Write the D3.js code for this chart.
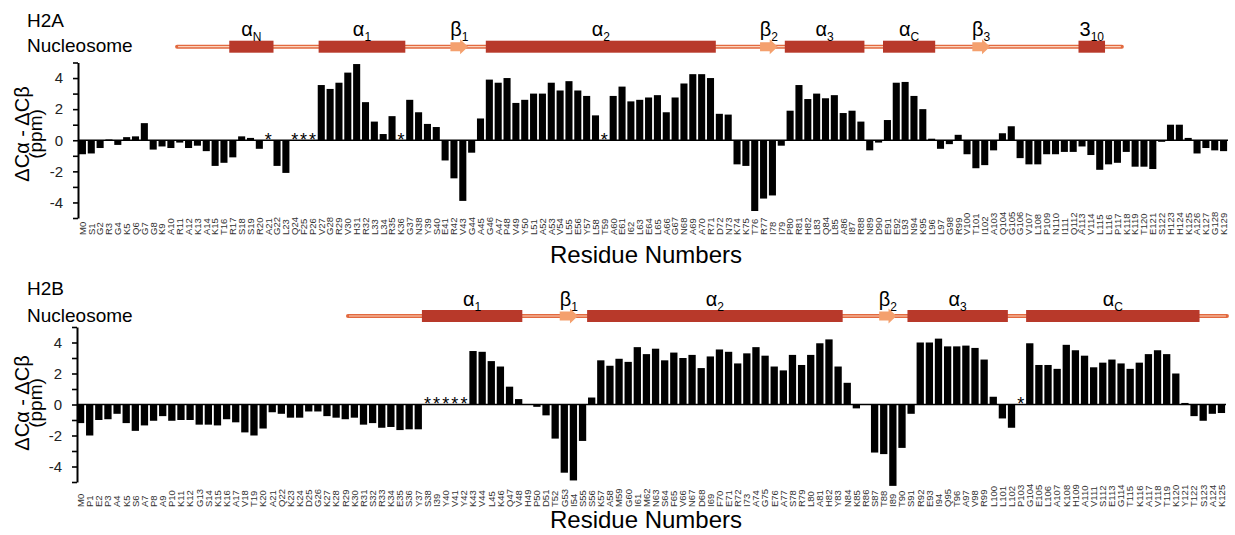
<!DOCTYPE html>
<html><head><meta charset="utf-8">
<script src="https://cdn.jsdelivr.net/npm/d3@7"></script>
<style>
 body{margin:0;background:#fff;}
 svg{font-family:Arial,"Liberation Sans",sans-serif;}
</style></head><body>
<div id="chartDiv"></div>
<script>
// H2A residues and dCa-dCb values (null = not assigned, drawn as *)
var h2aRes = ["M0","S1","G2","R3","G4","K5","Q6","G7","G8","K9","A10","R11","A12","K13","A14","K15","T16","R17","S18","S19",
 "R20","A21","G22","L23","Q24","F25","P26","V27","G28","R29","V30","H31","R32","L33","L34","R35","K36","G37","N38","Y39",
 "S40","E41","R42","V43","G44","A45","G46","A47","P48","V49","Y50","L51","A52","A53","V54","L55","E56","Y57","L58","T59",
 "A60","E61","I62","L63","E64","L65","A66","G67","N68","A69","A70","R71","D72","N73","K74","K75","T76","R77","I78","I79",
 "P80","R81","H82","L83","Q84","L85","A86","I87","R88","N89","D90","E91","E92","L93","N94","K95","L96","L97","G98","R99",
 "V100","T101","I102","A103","Q104","G105","G106","V107","L108","P109","N110","I111","Q112","A113","V114","L115","L116","P117","K118","K119",
 "T120","E121","S122","H123","H124","K125","A126","K127","G128","K129"];
var h2aVal = [-0.9,-0.85,-0.5,0.05,-0.3,0.2,0.25,1.1,-0.6,-0.4,-0.5,-0.15,-0.5,-0.35,-0.7,-1.65,-1.45,-1.1,0.25,0.15,
 -0.55,null,-1.65,-2.1,null,null,null,3.55,3.3,3.7,4.35,4.9,2.45,1.2,0.4,1.55,null,2.6,1.8,1.05,
 0.85,-1.3,-2.45,-3.9,-0.8,1.4,3.9,3.7,4.0,2.4,2.6,3.0,3.0,3.7,3.2,3.8,3.2,2.85,1.6,null,
 2.85,3.45,2.5,2.6,2.75,2.9,1.8,2.75,3.65,4.25,4.25,4.0,1.7,1.65,-1.55,-1.65,-4.55,-3.75,-3.55,-0.35,
 1.9,3.55,2.65,3.0,2.7,2.9,1.75,1.9,1.2,-0.65,-0.15,1.3,3.7,3.75,2.85,2.0,0.1,-0.55,-0.25,0.35,
 -0.9,-1.8,-1.6,-0.65,0.45,0.9,-1.15,-1.55,-1.55,-0.9,-0.9,-0.75,-0.75,-0.4,-0.95,-1.9,-1.55,-1.45,-0.75,-1.7,
 -1.7,-1.85,-0.1,1.0,1.0,0.15,-0.85,-0.5,-0.65,-0.7];
// secondary structure: type, from, to (residue position), label, subscript
var h2aSS = [
 ["line",11.1,117.9,"",""],
 ["helix",17,22,"\u03b1","N"],
 ["helix",27.1,36.9,"\u03b1","1"],
 ["strand",42,44,"\u03b2","1"],
 ["helix",46,72,"\u03b1","2"],
 ["strand",77,79,"\u03b2","2"],
 ["helix",79.8,88.8,"\u03b1","3"],
 ["helix",90.9,96.8,"\u03b1","C"],
 ["strand",101,103,"\u03b2","3"],
 ["helix",113,116,"3","10"]];

// H2B
var h2bRes = ["M0","P1","E2","P3","A4","K5","S6","A7","P8","A9","P10","K11","K12","G13","S14","K15","K16","A17","V18","T19",
 "K20","A21","Q22","K23","K24","D25","G26","K27","K28","R29","K30","R31","S32","R33","K34","E35","S36","Y37","S38","I39",
 "Y40","V41","Y42","K43","V44","L45","K46","Q47","V48","H49","P50","D51","T52","G53","I54","S55","S56","K57","A58","M59",
 "G60","I61","M62","N63","S64","F65","V66","N67","D68","I69","F70","E71","R72","I73","A74","G75","E76","A77","S78","R79",
 "L80","A81","H82","Y83","N84","K85","R86","S87","T88","I89","T90","S91","R92","E93","I94","Q95","T96","A97","V98","R99",
 "L100","L101","L102","P103","G104","E105","L106","A107","K108","H109","A110","V111","S112","E113","G114","T115","K116","A117","V118","T119",
 "K120","Y121","T122","S123","A124","K125"];
var h2bVal = [-1.2,-2.0,-1.0,-0.95,-0.6,-1.2,-1.7,-1.35,-1.05,-0.75,-1.05,-1.0,-1.0,-1.3,-1.3,-1.35,-0.95,-1.15,-1.8,-2.0,
 -1.55,-0.5,-0.6,-0.85,-0.85,-0.45,-0.45,-0.75,-0.85,-0.95,-0.85,-1.3,-1.2,-1.5,-1.45,-1.65,-1.6,-1.6,null,null,
 null,null,null,3.45,3.4,2.8,2.45,1.15,0.35,0.02,-0.15,-0.7,-2.2,-4.4,-4.9,-2.35,0.45,2.85,2.5,2.95,
 2.75,3.7,3.25,3.6,2.85,3.35,3.0,3.2,2.35,3.1,3.55,3.4,2.65,3.3,3.7,3.15,2.45,2.2,3.2,2.55,
 3.2,3.95,4.2,2.45,1.4,-0.25,0.0,-3.1,-3.2,-5.25,-2.8,-0.6,4.0,4.0,4.25,3.75,3.75,3.8,3.65,2.9,
 0.5,-0.9,-1.5,null,3.95,2.55,2.55,2.3,3.85,3.5,3.15,2.4,2.7,2.9,2.65,2.3,2.7,3.25,3.5,3.25,
 2.0,0.1,-0.75,-1.05,-0.6,-0.55];
var h2bSS = [
 ["line",29.7,126,"",""],
 ["helix",37.8,48.8,"\u03b1","1"],
 ["strand",52.9,54.9,"\u03b2","1"],
 ["helix",55.9,83.9,"\u03b1","2"],
 ["strand",87.9,89.8,"\u03b2","2"],
 ["helix",91,102,"\u03b1","3"],
 ["helix",104,123,"\u03b1","C"]];

var yTicks = [-5,-4,-3,-2,-1,0,1,2,3,4,5];
var yLabels = [-4,-2,0,2,4];

var svg = d3.select("#chartDiv").append("svg")
 .attr("width",1235).attr("height",535);

function drawPanel(p){
 var x = d3.scaleBand().domain(p.res).range(p.xRange).paddingInner(0.2).paddingOuter(0.1);
 var y = d3.scaleLinear().domain([-5,5]).range(p.yRange);
 var x0 = x(p.res[0]);				//residue position scale for the structure cartoon
 var rx = d3.scaleLinear().domain([0,p.res.length]).range([x0, x0 + x.step()*p.res.length]);
 var bw = x.bandwidth();
 var g = svg.append("g");
 var data = p.res.map(function(r,i){ return {r:r, v:p.val[i]}; });

 //titles top left
 g.append("text").attr("x",27).attr("y",p.nameY[0]).style("font-size","19px").text(p.name);
 g.append("text").attr("x",27).attr("y",p.nameY[1]).style("font-size","19px").text("Nucleosome");

 //secondary structure cartoon
 var ssY = p.ssY;
 p.ss.filter(function(s){return s[0]=="line";}).forEach(function(s){
  g.append("line").attr("x1",rx(s[1])).attr("x2",rx(s[2])).attr("y1",ssY).attr("y2",ssY)
   .attr("stroke","#e26a40").attr("stroke-width",4).attr("stroke-linecap","round");
  g.append("line").attr("x1",rx(s[1])+1).attr("x2",rx(s[2])-1).attr("y1",ssY).attr("y2",ssY)
   .attr("stroke","#fbd3bd").attr("stroke-width",1.2);
 });
 p.ss.filter(function(s){return s[0]!="line";}).forEach(function(s){
  var a = rx(s[1]), b = rx(s[2]);
  if(s[0]=="helix"){
   g.append("rect").attr("x",a).attr("y",ssY-6).attr("width",b-a).attr("height",12).attr("fill","#b8392a");
  } else {
   var h = 8;				//head length
   g.append("path").attr("fill","#f4a06e")
    .attr("d","M"+a+","+(ssY-4.5)+"L"+(b-h)+","+(ssY-4.5)+"L"+(b-h)+","+(ssY-7.5)+"L"+b+","+ssY+
      "L"+(b-h)+","+(ssY+7.5)+"L"+(b-h)+","+(ssY+4.5)+"L"+a+","+(ssY+4.5)+"Z");
  }
  var t = g.append("text").attr("x",(a+b)/2).attr("y",ssY-10.5).attr("text-anchor","middle");
  t.append("tspan").style("font-size","20px").text(s[3]);
  t.append("tspan").style("font-size","12px").attr("dy",5).text(s[4]);
 });

 //bars
 g.selectAll(".bar").data(data.filter(function(d){return d.v!==null;})).enter()
  .append("rect")
  .attr("x",function(d){return x(d.r);})
  .attr("width",bw)
  .attr("y",function(d){return y(Math.max(0,d.v));})
  .attr("height",function(d){return Math.abs(y(d.v)-y(0));})
  .attr("fill","#000");

 //stars for missing residues
 g.selectAll(".star").data(data.filter(function(d){return d.v===null;})).enter()
  .append("text")
  .attr("x",function(d){return x(d.r)+bw/2;})
  .attr("y",y(0)+5.5)
  .attr("text-anchor","middle")
  .style("font-size","18px")
  .text("*");

 //zero line
 g.append("line").attr("x1",p.axisX).attr("x2",p.xRange[1]).attr("y1",y(0)).attr("y2",y(0))
  .attr("stroke","#000").attr("stroke-width",1.6);

 //y axis
 var ax = g.append("g").attr("transform","translate("+p.axisX+",0)")
  .call(d3.axisLeft(y).tickValues(yTicks).tickSize(5).tickSizeOuter(0).tickPadding(10)
   .tickFormat(function(d){ return yLabels.indexOf(d)>=0 ? String(d) : ""; }));
 ax.select(".domain").attr("stroke-width",2);
 ax.selectAll(".tick line").attr("stroke-width",1.6);
 ax.selectAll(".tick text").style("font-size","15px").style("font-family","Arial,'Liberation Sans',sans-serif").attr("fill","#222");

 //y title
 g.append("text").attr("transform","translate(29,"+p.yTitleY+")rotate(-90)").attr("text-anchor","middle")
  .style("font-size","20px").text("\u0394C\u03b1 - \u0394C\u03b2");
 g.append("text").attr("transform","translate(41.5,"+p.yTitleY+")rotate(-90)").attr("text-anchor","middle")
  .style("font-size","19px").text("(ppm)");

 //residue labels
 g.selectAll(".rl").data(p.res).enter().append("text")
  .attr("transform",function(d){return "translate("+(x(d)+bw/2)+","+p.labY+")rotate(-90)";})
  .attr("dy","0.35em")
  .attr("text-anchor","start")
  .style("font-size","9.5px")
  .attr("fill","#333")
  .text(function(d){return d;});

 g.append("text").attr("x",646).attr("y",p.xTitleY).attr("text-anchor","middle")
  .style("font-size","24px").text("Residue Numbers");
}

drawPanel({name:"H2A", res:h2aRes, val:h2aVal, ss:h2aSS, xRange:[78,1228], yRange:[218,62.5], axisX:78,
 nameY:[27,52], ssY:46.7, yTitleY:134, labY:235, xTitleY:263});
drawPanel({name:"H2B", res:h2bRes, val:h2bVal, ss:h2bSS, xRange:[76,1226], yRange:[482,327], axisX:77,
 nameY:[295,322], ssY:316, yTitleY:403, labY:507, xTitleY:528});
</script>
</body></html>
